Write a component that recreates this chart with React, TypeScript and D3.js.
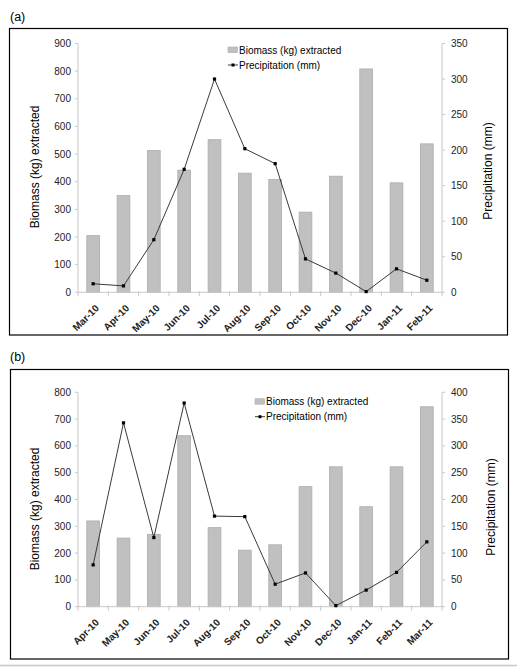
import React from "react";
import * as d3 from "d3";

// panel (a)
const monthsA = ["Mar-10", "Apr-10", "May-10", "Jun-10", "Jul-10", "Aug-10", "Sep-10", "Oct-10", "Nov-10", "Dec-10", "Jan-11", "Feb-11"];
const biomassA = [205, 350, 513, 442, 552, 431, 408, 290, 420, 808, 396, 537];
const precipA = [12, 9, 74, 173, 300, 202, 181, 47, 27, 1, 33, 17];
const leftTicksA = [0, 100, 200, 300, 400, 500, 600, 700, 800, 900];
const rightTicksA = [0, 50, 100, 150, 200, 250, 300, 350];

// panel (b)
const monthsB = ["Apr-10", "May-10", "Jun-10", "Jul-10", "Aug-10", "Sep-10", "Oct-10", "Nov-10", "Dec-10", "Jan-11", "Feb-11", "Mar-11"];
const biomassB = [320, 256, 270, 638, 295, 211, 231, 448, 522, 373, 522, 746];
const precipB = [78, 343, 129, 380, 169, 168, 42, 63, 2, 31, 64, 121];
const leftTicksB = [0, 100, 200, 300, 400, 500, 600, 700, 800];
const rightTicksB = [0, 50, 100, 150, 200, 250, 300, 350, 400];

const FONT = "'Liberation Sans', Arial, sans-serif";
const AXIS = "#c8c8c8";

interface PanelProps {
  label: string;
  labelY: number;
  frame: [number, number, number, number];
  top: number;
  bottom: number;
  months: string[];
  biomass: number[];
  precip: number[];
  leftTicks: number[];
  rightTicks: number[];
  legendX: number;
  legendY: number;
  leftTitleY: number;
  rightTitleX: number;
  rightTitleY: number;
}

const Panel: React.FC<PanelProps> = (p) => {
  const x0 = 78;
  const x1 = 442;
  const x = d3.scaleBand<string>().domain(p.months).range([x0, x1]).padding(0);
  const yL = d3.scaleLinear().domain([0, d3.max(p.leftTicks)!]).range([p.bottom, p.top]);
  const yR = d3.scaleLinear().domain([0, d3.max(p.rightTicks)!]).range([p.bottom, p.top]);
  const bw = x.bandwidth() * 0.42;
  const cx = (m: string) => x(m)! + x.bandwidth() / 2;

  const line = d3
    .line<number>()
    .x((_, i) => cx(p.months[i]))
    .y((d) => yR(d));

  const [fx, fy, fw, fh] = p.frame;
  const boundaries = d3.range(p.months.length + 1).map((i) => x0 + i * x.bandwidth());

  return (
    <g fontFamily={FONT}>
      <text x={10} y={p.labelY} fontSize={12.5} fill="#000">{p.label}</text>
      <rect x={fx} y={fy} width={fw} height={fh} fill="none" stroke="#000" strokeWidth={1.2} />

      {/* bars */}
      {p.biomass.map((v, i) => (
        <rect
          key={i}
          x={cx(p.months[i]) - bw / 2}
          y={yL(v)}
          width={bw}
          height={yL(0) - yL(v)}
          fill="#c0c0c0"
          stroke="#acacac"
          strokeWidth={0.8}
        />
      ))}

      {/* axes */}
      <line x1={x0} x2={x0} y1={p.top} y2={p.bottom} stroke={AXIS} />
      <line x1={x1} x2={x1} y1={p.top} y2={p.bottom} stroke={AXIS} />
      <line x1={x0} x2={x1} y1={p.bottom} y2={p.bottom} stroke={AXIS} />
      {boundaries.map((b, i) => (
        <line key={i} x1={b} x2={b} y1={p.bottom - 1} y2={p.bottom + 4} stroke={AXIS} />
      ))}
      {p.leftTicks.map((t) => (
        <g key={t}>
          <line x1={x0 - 3} x2={x0} y1={yL(t)} y2={yL(t)} stroke={AXIS} />
          <text x={x0 - 7} y={yL(t)} dy="0.35em" textAnchor="end" fontSize={10} fill="#222">{t}</text>
        </g>
      ))}
      {p.rightTicks.map((t) => (
        <g key={t}>
          <line x1={x1} x2={x1 + 3} y1={yR(t)} y2={yR(t)} stroke={AXIS} />
          <text x={x1 + 9} y={yR(t)} dy="0.35em" textAnchor="start" fontSize={10} fill="#222">{t}</text>
        </g>
      ))}
      {p.months.map((m) => (
        <text
          key={m}
          transform={`translate(${cx(m) + 4},${p.bottom + 14}) rotate(-45)`}
          textAnchor="end"
          dy="0.35em"
          fontSize={10}
          fontWeight="bold"
          fill="#222"
        >
          {m}
        </text>
      ))}

      {/* precipitation line */}
      <path d={line(p.precip)!} fill="none" stroke="#3a3a3a" strokeWidth={1} />
      {p.precip.map((v, i) => (
        <rect key={i} x={cx(p.months[i]) - 1.6} y={yR(v) - 1.6} width={3.2} height={3.2} fill="#000" />
      ))}

      {/* axis titles */}
      <text
        transform={`translate(35,${p.leftTitleY}) rotate(-90)`}
        textAnchor="middle"
        dy="0.35em"
        fontSize={12}
        fill="#000"
      >
        Biomass (kg) extracted
      </text>
      <text
        transform={`translate(${p.rightTitleX},${p.rightTitleY}) rotate(-90)`}
        textAnchor="middle"
        dy="0.35em"
        fontSize={12}
        fill="#000"
      >
        Precipitation (mm)
      </text>

      {/* legend */}
      <rect x={p.legendX} y={p.legendY - 3} width={9.5} height={5.5} fill="#c0c0c0" stroke="#acacac" strokeWidth={0.6} />
      <text x={p.legendX + 11} y={p.legendY} dy="0.35em" fontSize={10} fill="#000">Biomass (kg) extracted</text>
      <line x1={p.legendX} x2={p.legendX + 10} y1={p.legendY + 15} y2={p.legendY + 15} stroke="#3a3a3a" />
      <rect x={p.legendX + 3.5} y={p.legendY + 13.5} width={3} height={3} fill="#000" />
      <text x={p.legendX + 11} y={p.legendY + 15} dy="0.35em" fontSize={10} fill="#000">Precipitation (mm)</text>
    </g>
  );
};

export default function App() {
  return (
    <div style={{ position: "absolute", left: 0, top: 0 }}>
      <svg width={517} height={667} style={{ display: "block", background: "#fff" }}>
        <Panel
          label="(a)"
          labelY={21}
          frame={[9.5, 28.5, 498, 306.5]}
          top={43.5}
          bottom={292.3}
          months={monthsA}
          biomass={biomassA}
          precip={precipA}
          leftTicks={leftTicksA}
          rightTicks={rightTicksA}
          legendX={228}
          legendY={50}
          leftTitleY={167}
          rightTitleX={488}
          rightTitleY={171}
        />
        <Panel
          label="(b)"
          labelY={361}
          frame={[10.5, 369.5, 498, 289.5]}
          top={392.3}
          bottom={606.7}
          months={monthsB}
          biomass={biomassB}
          precip={precipB}
          leftTicks={leftTicksB}
          rightTicks={rightTicksB}
          legendX={255}
          legendY={401.7}
          leftTitleY={509}
          rightTitleX={491}
          rightTitleY={507}
        />
        <line x1={0} x2={517} y1={665.5} y2={665.5} stroke="#c8c8c8" strokeWidth={1.5} />
      </svg>
    </div>
  );
}
